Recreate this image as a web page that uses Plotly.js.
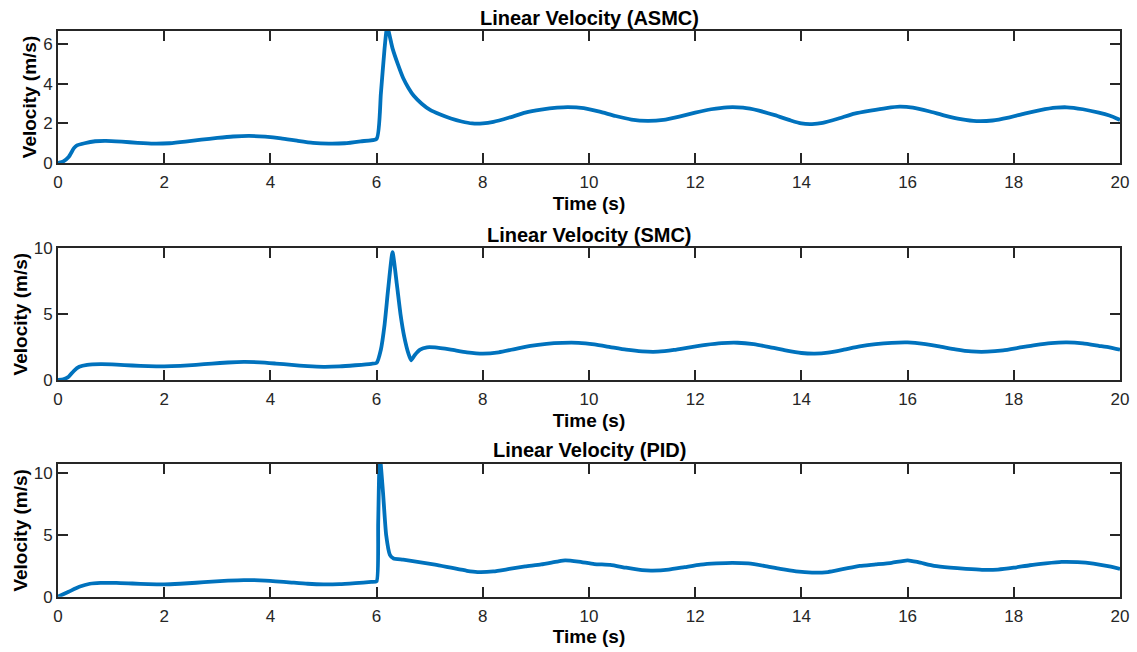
<!DOCTYPE html>
<html>
<head>
<meta charset="utf-8">
<script src="https://cdn.plot.ly/plotly-3.0.1.min.js"></script>
<style>html,body{margin:0;padding:0;background:#fff;}#chart{width:1137px;height:652px;}</style>
</head>
<body>
<div id="chart"></div>
<script>
// ---- data ----
var titles = ["Linear Velocity (ASMC)", "Linear Velocity (SMC)", "Linear Velocity (PID)"];

var asmcT = [0,0.1,0.2,0.3,0.35,0.5,0.7,0.9,1.2,1.5,1.8,2.1,2.4,2.7,3.0,3.3,3.6,3.9,4.2,4.5,4.8,5.1,5.4,5.7,6.0,6.08,6.15,6.2,6.3,6.4,6.5,6.6,6.7,6.85,7.0,7.2,7.4,7.6,7.8,8.0,8.2,8.5,8.8,9.1,9.4,9.6,9.9,10.2,10.5,10.8,11.1,11.4,11.7,12.0,12.3,12.6,12.9,13.2,13.5,13.8,14.0,14.2,14.4,14.7,15.0,15.3,15.6,15.85,16.1,16.4,16.7,17.0,17.3,17.6,17.9,18.2,18.5,18.8,19.0,19.3,19.6,19.8,20];
var asmcV = [0,0.08,0.3,0.75,0.88,1.0,1.1,1.12,1.08,1.02,0.98,1.0,1.08,1.18,1.27,1.34,1.37,1.33,1.25,1.13,1.02,0.98,1.0,1.1,1.22,3.5,5.8,6.9,5.8,5.0,4.3,3.8,3.4,3.0,2.7,2.45,2.25,2.1,2.0,2.0,2.08,2.3,2.55,2.7,2.8,2.83,2.78,2.6,2.38,2.2,2.13,2.18,2.35,2.55,2.72,2.82,2.8,2.65,2.42,2.15,2.0,1.97,2.03,2.25,2.5,2.65,2.78,2.85,2.8,2.62,2.4,2.22,2.12,2.15,2.3,2.5,2.68,2.8,2.82,2.72,2.55,2.4,2.18];

var smcT = [0,0.1,0.2,0.3,0.4,0.55,0.8,1.1,1.4,1.7,2.0,2.3,2.6,2.9,3.2,3.5,3.8,4.1,4.4,4.7,5.0,5.3,5.6,5.9,6.0,6.08,6.15,6.22,6.3,6.38,6.45,6.52,6.6,6.65,6.72,6.82,6.95,7.1,7.4,7.7,8.0,8.3,8.6,8.9,9.2,9.5,9.8,10.1,10.4,10.7,11.0,11.3,11.6,11.9,12.2,12.5,12.8,13.1,13.4,13.7,14.0,14.25,14.5,14.8,15.1,15.4,15.7,16.0,16.3,16.6,16.9,17.2,17.5,17.8,18.1,18.4,18.7,19.0,19.3,19.6,19.8,20];
var smcV = [0,0.05,0.25,0.7,1.0,1.15,1.2,1.17,1.1,1.05,1.03,1.07,1.15,1.25,1.33,1.37,1.34,1.25,1.15,1.05,1.0,1.03,1.12,1.23,1.3,2.3,4.2,7.0,9.7,7.3,5.0,3.3,2.0,1.5,1.9,2.3,2.48,2.47,2.3,2.1,2.0,2.1,2.35,2.6,2.75,2.82,2.82,2.7,2.5,2.3,2.17,2.15,2.28,2.48,2.67,2.8,2.83,2.72,2.5,2.25,2.05,2.0,2.07,2.3,2.55,2.72,2.82,2.85,2.75,2.55,2.33,2.17,2.15,2.25,2.45,2.65,2.8,2.85,2.78,2.6,2.48,2.3];

var pidT = [0,0.2,0.4,0.6,0.8,1.1,1.4,1.7,2.0,2.3,2.6,2.9,3.2,3.5,3.8,4.1,4.4,4.7,5.0,5.3,5.6,5.9,6.0,6.03,6.06,6.12,6.18,6.25,6.32,6.5,6.8,7.1,7.4,7.7,7.9,8.2,8.5,8.8,9.1,9.4,9.55,9.8,10.1,10.4,10.7,11.0,11.2,11.5,11.8,12.1,12.4,12.7,13.0,13.3,13.6,13.9,14.2,14.5,14.8,15.1,15.4,15.7,16.0,16.2,16.5,16.8,17.1,17.4,17.7,18.0,18.3,18.6,18.9,19.2,19.5,19.8,20];
var pidV = [0,0.4,0.8,1.05,1.12,1.12,1.07,1.02,1.0,1.05,1.13,1.22,1.3,1.35,1.33,1.25,1.15,1.05,1.0,1.02,1.1,1.2,1.25,6.0,11.5,8.5,5.0,3.4,3.1,3.0,2.8,2.6,2.35,2.1,2.0,2.05,2.25,2.45,2.62,2.85,2.95,2.85,2.65,2.58,2.35,2.15,2.12,2.2,2.4,2.6,2.7,2.75,2.7,2.5,2.25,2.05,1.95,2.0,2.25,2.5,2.62,2.75,2.95,2.8,2.5,2.35,2.25,2.18,2.2,2.35,2.55,2.7,2.82,2.8,2.68,2.45,2.25];

var yRanges = [[0, 6.68], [0, 10], [0, 10.76]];
var yDticks = [2, 5, 5];
var xTickVals = [0,2,4,6,8,10,12,14,16,18,20];
var yTitle = "Velocity (m/s)";
var xTitle = "Time (s)";

// ---- layout ----
var W = 1137, H = 652;
var plotTops = [31, 248.3, 464];
var plotBots = [163, 380, 596.7];
var lineColor = "#0072BD";
var axisColor = "#262626";
var font = "Arial, 'Liberation Sans', Helvetica, sans-serif";

var series = [[asmcT, asmcV], [smcT, smcV], [pidT, pidV]];
var traces = [];
var layout = {
  width: W, height: H,
  margin: {l: 58, r: 16.5, t: 0, b: 0},
  paper_bgcolor: "#fff", plot_bgcolor: "#fff",
  showlegend: false,
  font: {family: font, size: 17, color: axisColor},
  annotations: []
};

for (var i = 0; i < 3; i++) {
  var sfx = i === 0 ? "" : String(i + 1);
  traces.push({
    x: series[i][0], y: series[i][1],
    type: "scatter", mode: "lines",
    line: {color: lineColor, width: 3.8, shape: "spline", smoothing: 0.5},
    xaxis: "x" + sfx, yaxis: "y" + sfx,
    cliponaxis: true, hoverinfo: "skip"
  });
  var dom = [1 - plotBots[i] / H, 1 - plotTops[i] / H];
  layout["xaxis" + sfx] = {
    domain: [0, 1], anchor: "y" + sfx, range: [0, 20],
    tickmode: "array", tickvals: xTickVals,
    ticks: "inside", ticklen: 10, tickwidth: 2, tickcolor: axisColor,
    showline: true, linewidth: 2, linecolor: axisColor, mirror: "ticks",
    showgrid: false, zeroline: false, fixedrange: true,
    tickfont: {family: font, size: 17, color: axisColor},
    ticklabelstandoff: 3,
    title: {text: "<b>" + xTitle + "</b>", standoff: 5, font: {family: font, size: 19, color: "#000"}},
    automargin: false
  };
  layout["yaxis" + sfx] = {
    domain: dom, anchor: "x" + sfx, range: yRanges[i],
    dtick: yDticks[i], tick0: 0,
    ticks: "inside", ticklen: 10, tickwidth: 2, tickcolor: axisColor,
    showline: true, linewidth: 2, linecolor: axisColor, mirror: "ticks",
    showgrid: false, zeroline: false, fixedrange: true,
    tickfont: {family: font, size: 17, color: axisColor},
    title: {text: "<b>" + yTitle + "</b>", standoff: 1, font: {family: font, size: 19, color: "#000"}},
    automargin: false
  };
  layout.annotations.push({
    text: "<b>" + titles[i] + "</b>",
    xref: "x" + sfx + " domain", yref: "paper",
    x: 0.5, y: 1 - (plotTops[i] - 13.5) / H,
    xanchor: "center", yanchor: "middle", showarrow: false,
    font: {family: font, size: 20, color: "#000"}
  });
}

Plotly.newPlot("chart", traces, layout, {displayModeBar: false, staticPlot: true});
</script>
</body>
</html>
